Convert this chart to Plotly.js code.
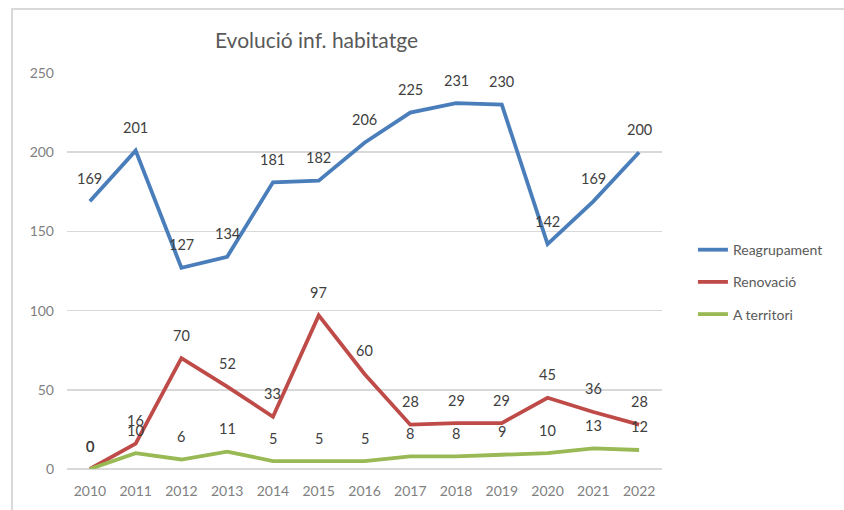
<!DOCTYPE html>
<html>
<head>
<meta charset="utf-8">
<script src="https://cdn.plot.ly/plotly-3.0.1.min.js"></script>
<style>
  html, body { margin: 0; padding: 0; background: #fff; }
  #wrap { position: relative; width: 844px; height: 510px; }
  #chart { position: absolute; left: 0; top: 0; width: 844px; height: 510px; }
  #frame { position: absolute; left: 11px; top: 8px; width: 840px; height: 510px;
           border-left: 2px solid #d9d9d9; border-top: 2px solid #d9d9d9; pointer-events: none; }
</style>
</head>
<body>
<div id="wrap">
  <div id="chart"></div>
  <div id="frame"></div>
</div>
<script>
const years = ['2010','2011','2012','2013','2014','2015','2016','2017','2018','2019','2020','2021','2022'];
const reagrupament = [169, 201, 127, 134, 181, 182, 206, 225, 231, 230, 142, 169, 200];
const renovacio    = [0, 16, 70, 52, 33, 97, 60, 28, 29, 29, 45, 36, 28];
const territori    = [0, 10, 6, 11, 5, 5, 5, 8, 8, 9, 10, 13, 12];
const seriesNames  = ['Reagrupament', 'Renovació', 'A territori'];
const yTicks = [0, 50, 100, 150, 200, 250];

const colors = ['#4a7ebb', '#be4b48', '#98b954'];
const allSeries = [reagrupament, renovacio, territori];
const FONT = 'Lato, "Open Sans", sans-serif';

const traces = allSeries.map((vals, i) => ({
  x: years, y: vals, type: 'scatter', mode: 'lines', name: seriesNames[i],
  legendgroup: 'g' + i,
  line: { color: colors[i], width: 3.8 },
  hoverinfo: 'skip'
}));

const annotations = [];
allSeries.forEach(vals => {
  vals.forEach((v, j) => {
    annotations.push({
      x: j, y: v, xref: 'x', yref: 'y', text: String(v), showarrow: false,
      yanchor: 'middle', xanchor: 'center', yshift: 23,
      font: { family: FONT, size: 14.5, color: '#404040' }
    });
  });
});

const layout = {
  width: 844, height: 510,
  margin: { l: 67, r: 182, t: 73, b: 41 },
  paper_bgcolor: '#ffffff', plot_bgcolor: '#ffffff',
  font: { family: FONT, color: '#595959' },
  title: {
    text: 'Evolució inf. habitatge',
    x: 0.375, xref: 'container', xanchor: 'center',
    y: 0.921, yref: 'container', yanchor: 'middle',
    font: { family: FONT, size: 21, color: '#595959' }
  },
  xaxis: {
    type: 'category', range: [-0.5, 12.5], showgrid: false, zeroline: false,
    showline: false, ticks: '', ticklabelstandoff: 12,
    tickfont: { family: FONT, size: 14, color: '#7f7f7f' }, fixedrange: true
  },
  yaxis: {
    range: [0, 250], tickvals: yTicks, ticktext: yTicks.map(String),
    showgrid: true, gridcolor: '#d9d9d9', gridwidth: 1.5,
    zeroline: true, zerolinecolor: '#d9d9d9', zerolinewidth: 1.5,
    showline: false, ticks: '', ticklabelstandoff: 12,
    tickfont: { family: FONT, size: 14, color: '#7f7f7f' }, fixedrange: true
  },
  legend: {
    x: 1.052, xanchor: 'left', y: 0.472, yanchor: 'middle',
    traceorder: 'grouped', tracegroupgap: 11,
    font: { family: FONT, size: 14, color: '#595959' },
    bgcolor: 'rgba(0,0,0,0)'
  },
  showlegend: true,
  annotations: annotations
};

Plotly.newPlot('chart', traces, layout, { displayModeBar: false, staticPlot: true });
</script>
</body>
</html>
